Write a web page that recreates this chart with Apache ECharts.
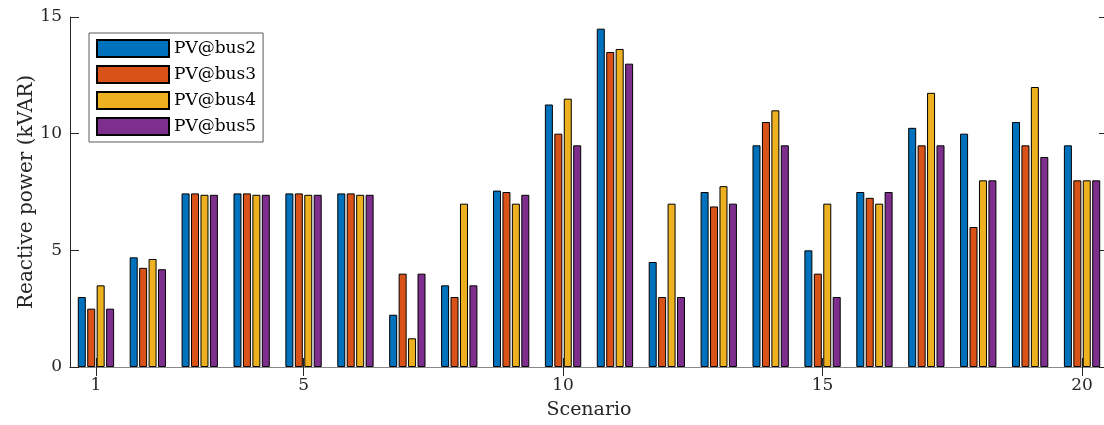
<!DOCTYPE html>
<html><head><meta charset="utf-8">
<script src="https://cdn.jsdelivr.net/npm/echarts@6/dist/echarts.min.js"></script>
<style>html,body{margin:0;padding:0;background:#fff}#c{width:1104px;height:425px}</style>
</head><body><div id="c"></div>
<script>
const categories = ['1','2','3','4','5','6','7','8','9','10','11','12','13','14','15','16','17','18','19','20'];
const pvBus2 = [3.0, 4.7, 7.44, 7.44, 7.44, 7.44, 2.24, 3.5, 7.56, 11.25, 14.5, 4.5, 7.5, 9.5, 5.0, 7.5, 10.25, 10.0, 10.5, 9.5];
const pvBus3 = [2.5, 4.25, 7.44, 7.44, 7.44, 7.44, 4.0, 3.0, 7.5, 10.0, 13.5, 3.0, 6.88, 10.5, 4.0, 7.25, 9.5, 6.0, 9.5, 8.0];
const pvBus4 = [3.5, 4.63, 7.38, 7.38, 7.38, 7.38, 1.23, 7.0, 7.0, 11.5, 13.63, 7.0, 7.75, 11.0, 7.0, 7.0, 11.75, 8.0, 12.0, 8.0];
const pvBus5 = [2.5, 4.19, 7.38, 7.38, 7.38, 7.38, 4.0, 3.5, 7.38, 9.5, 13.0, 3.0, 7.0, 9.5, 3.0, 7.5, 9.5, 8.0, 9.0, 8.0];
const seriesNames = ['PV@bus2','PV@bus3','PV@bus4','PV@bus5'];
const colors = ['#0072BD','#D95319','#EDB120','#7E2F8E'];
const yTicks = [0, 5, 10, 15];
const xTickLabels = ['1','5','10','15','20'];

const FONT = '"DejaVu Serif", "Liberation Serif", serif';
const AX = '#262626';
const showIdx = (i) => xTickLabels.includes(categories[i]);
const values = [pvBus2, pvBus3, pvBus4, pvBus5];

const chart = echarts.init(document.getElementById('c'), null, {renderer:'canvas'});
chart.setOption({
  animation: false,
  backgroundColor: '#fff',
  grid: {left: 70, top: 17, width: 1038, height: 350, containLabel: false, outerBoundsMode: 'none'},
  legend: {
    orient: 'vertical', left: 89, top: 33,
    icon: 'rect', itemWidth: 72, itemHeight: 17, itemGap: 7,
    backgroundColor: '#fff', borderColor: '#5a5a5a', borderWidth: 1,
    padding: [6, 7, 6, 7],
    textStyle: {fontFamily: FONT, fontSize: 17, lineHeight: 17, color: '#000'},
    data: seriesNames
  },
  xAxis: [{
    type: 'category', data: categories, boundaryGap: true,
    name: 'Scenario', nameLocation: 'middle', nameGap: 34, nameMoveOverlap: false,
    nameTextStyle: {fontFamily: FONT, fontSize: 19, color: '#262626'},
    axisLine: {show: true, lineStyle: {color: AX, width: 1}},
    axisTick: {show: true, inside: true, alignWithLabel: true, length: 9, interval: (i) => showIdx(i), lineStyle: {color: AX}},
    axisLabel: {interval: (i) => showIdx(i), fontFamily: FONT, fontSize: 17, color: '#262626', margin: 10},
    splitLine: {show: false}
  },{
    type: 'category', data: categories, boundaryGap: true, position: 'top',
    axisLine: {show: true, lineStyle: {color: '#888', width: 1}},
    axisTick: {show: true, inside: true, alignWithLabel: true, length: 9, interval: (i) => showIdx(i), lineStyle: {color: AX}},
    axisLabel: {show: false}, splitLine: {show: false}
  }],
  yAxis: [{
    type: 'value', min: 0, max: 15, interval: 5,
    name: 'Reactive power (kVAR)', nameLocation: 'middle', nameGap: 33, nameRotate: 90, nameMoveOverlap: false,
    nameTextStyle: {fontFamily: FONT, fontSize: 20, color: '#262626'},
    axisLine: {show: true, lineStyle: {color: AX, width: 1}},
    axisTick: {show: true, inside: true, length: 9, lineStyle: {color: AX}},
    axisLabel: {fontFamily: FONT, fontSize: 17, color: '#262626', margin: 8,
      formatter: (v) => yTicks.includes(v) ? String(v) : ''},
    splitLine: {show: false}
  },{
    type: 'value', min: 0, max: 15, interval: 5, position: 'right',
    axisLine: {show: true, lineStyle: {color: AX, width: 1}},
    axisTick: {show: true, inside: true, length: 9, lineStyle: {color: AX}},
    axisLabel: {show: false}, splitLine: {show: false}
  }],
  series: seriesNames.map((n, k) => ({
    name: n, type: 'bar', data: values[k],
    barWidth: 8, barGap: '18%',
    itemStyle: {color: colors[k], borderColor: '#000', borderWidth: 1}
  }))
});
</script></body></html>
